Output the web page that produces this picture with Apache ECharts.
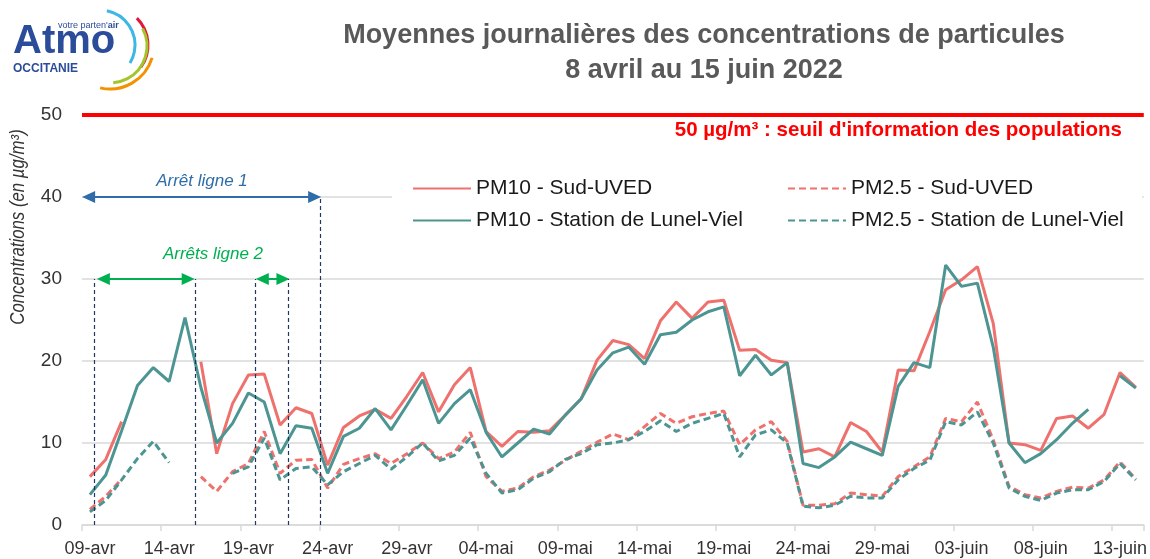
<!DOCTYPE html>
<html><head><meta charset="utf-8">
<script src="https://cdn.jsdelivr.net/npm/echarts@6/dist/echarts.min.js"></script>
<style>html,body{margin:0;padding:0;background:#fff}#c{width:1150px;height:559px}</style>
</head><body><div id="c"></div>
<script>
const categories = [
'09-avr','10-avr','11-avr','12-avr','13-avr','14-avr','15-avr','16-avr','17-avr','18-avr',
'19-avr','20-avr','21-avr','22-avr','23-avr','24-avr','25-avr','26-avr','27-avr','28-avr',
'29-avr','30-avr','01-mai','02-mai','03-mai','04-mai','05-mai','06-mai','07-mai','08-mai',
'09-mai','10-mai','11-mai','12-mai','13-mai','14-mai','15-mai','16-mai','17-mai','18-mai',
'19-mai','20-mai','21-mai','22-mai','23-mai','24-mai','25-mai','26-mai','27-mai','28-mai',
'29-mai','30-mai','31-mai','01-juin','02-juin','03-juin','04-juin','05-juin','06-juin','07-juin',
'08-juin','09-juin','10-juin','11-juin','12-juin','13-juin','14-juin'];

const pm10Sud = [5.9,8.0,12.6,null,null,null,null,19.9,8.7,14.8,
18.3,18.4,12.2,14.3,13.6,7.3,11.9,13.3,14.1,13.0,
15.7,18.6,13.8,17.1,19.2,11.4,9.6,11.4,11.3,11.5,
13.4,15.4,20.1,22.5,22.0,20.3,24.9,27.2,25.2,27.2,
27.4,21.3,21.4,20.1,19.8,8.9,9.3,8.3,12.5,11.4,
8.9,18.9,18.8,23.6,28.7,29.9,31.5,24.6,10.0,9.8,
9.1,13.0,13.3,11.8,13.5,18.6,16.8];

const pm10Lunel = [3.7,6.1,11.5,17.0,19.2,17.5,25.3,16.8,10.0,12.4,
16.1,15.0,8.7,12.1,11.8,6.3,10.8,11.8,14.2,11.6,
14.6,17.7,12.4,14.8,16.5,11.3,8.3,10.0,11.7,11.1,
13.4,15.4,18.9,21.0,21.7,19.6,23.2,23.5,25.0,26.0,
26.6,18.2,20.7,18.3,19.8,7.5,7.0,8.3,10.1,9.3,
8.5,16.9,19.8,19.2,31.7,29.1,29.5,21.7,10.0,7.6,
8.7,10.4,12.4,14.1,null,18.2,16.7];

const pm25Sud = [1.9,3.5,5.6,null,null,null,null,5.9,4.1,6.5,
7.5,11.4,6.3,7.9,8.0,4.5,7.4,8.1,8.7,7.5,
8.7,10.0,8.1,8.9,11.3,5.9,4.1,4.5,5.9,6.7,
7.9,9.0,10.1,11.1,10.4,12.0,13.6,12.4,13.2,13.6,
13.9,9.8,11.6,12.6,10.2,2.4,2.4,2.6,3.9,3.7,
3.5,5.9,7.1,8.3,13.0,12.6,15.0,10.4,4.7,3.7,
3.3,4.1,4.6,4.5,5.5,7.7,5.6];

const pm25Lunel = [1.6,3.0,5.5,8.1,10.2,7.6,null,null,null,6.3,
7.1,10.6,5.5,6.9,7.1,4.9,6.5,7.5,8.5,6.8,
8.3,10.0,7.8,8.5,10.6,6.3,3.9,4.3,5.7,6.5,
8.0,8.7,9.8,10.0,10.4,11.4,12.7,11.4,12.4,13.0,
13.6,8.3,11.0,11.6,10.0,2.3,2.1,2.4,3.5,3.3,
3.3,5.5,6.9,7.9,12.6,12.2,13.8,10.0,4.5,3.5,
3.0,3.9,4.3,4.3,5.3,7.5,5.5];

const seriesNames = ['PM10 - Sud-UVED','PM2.5 - Sud-UVED','PM10 - Station de Lunel-Viel','PM2.5 - Station de Lunel-Viel'];
const threshold = 50;
// annotation spans, in days counted from the left edge of 09-avr
const arret1 = [0, 15.1];
const arrets2 = [[0.93, 7.12], [10.96, 13.1]];
const stopLines = [[0.8, 30], [7.12, 30], [10.96, 30], [13.0, 30], [15.05, 40]];

const RED = '#EF716D', TEAL = '#4C9592';
const SANS = "'Liberation Sans',Arial,sans-serif";
const HEAD = 0.42; // half arrow-head length in days

function lineSeries(name, data, color, dashed, z) {
  return {
    name, type: 'line', data, symbol: 'none', z,
    lineStyle: {color, width: 3, type: dashed ? [7, 4] : 'solid'},
    itemStyle: {color}, connectNulls: false, silent: true
  };
}

const chart = echarts.init(document.getElementById('c'));
const legendPos = [[412, 178], [787, 178], [412, 210], [787, 210]];

chart.setOption({
  animation: false,
  backgroundColor: '#fff',
  grid: {left: 82, right: 4, top: 115, bottom: 34, containLabel: false},
  legend: seriesNames.map((n, i) => ({
    data: [n], left: legendPos[i][0], top: legendPos[i][1], padding: 0,
    itemWidth: 58, itemHeight: 14, itemGap: 0, selectedMode: false, z: 10,
    itemStyle: {opacity: 0},
    textStyle: {fontFamily: SANS, fontSize: 21, color: '#1a1a1a'}
  })),
  xAxis: [{
    type: 'category', data: categories, boundaryGap: true,
    axisLine: {lineStyle: {color: '#d9d9d9', width: 1.5}},
    axisTick: {show: true, interval: 4, length: 6, lineStyle: {color: '#d9d9d9', width: 1.5}},
    axisLabel: {interval: 4, margin: 15, fontFamily: SANS, fontSize: 18, color: '#333'},
    splitLine: {show: false}
  }, {
    type: 'value', min: 0, max: categories.length, show: false
  }],
  yAxis: {
    type: 'value', min: 0, max: 50, interval: 10,
    axisLine: {show: false}, axisTick: {show: false},
    axisLabel: {margin: 20, fontFamily: SANS, fontSize: 19, color: '#333'},
    splitLine: {lineStyle: {color: '#d9d9d9', width: 1.5}}
  },
  series: [
    Object.assign(lineSeries(seriesNames[0], pm10Sud, RED, false, 3), {
      markLine: {
        silent: true, symbol: 'none', label: {show: false},
        lineStyle: {color: '#ff0000', width: 4, type: 'solid'},
        data: [{yAxis: threshold}]
      }
    }),
    lineSeries(seriesNames[1], pm25Sud, RED, true, 3),
    lineSeries(seriesNames[2], pm10Lunel, TEAL, false, 4),
    lineSeries(seriesNames[3], pm25Lunel, TEAL, true, 4),
    {
      name: 'annot1', type: 'line', xAxisIndex: 1, yAxisIndex: 0, data: [], silent: true,
      markLine: {
        silent: true, label: {show: false}, symbol: ['triangle', 'triangle'], symbolSize: [12, 13],
        lineStyle: {color: '#2E6DA8', width: 2, type: 'solid'},
        data: [[{coord: [arret1[0] + HEAD, 40]}, {coord: [arret1[1] - HEAD, 40]}]]
      }
    },
    {
      name: 'annot2', type: 'line', xAxisIndex: 1, yAxisIndex: 0, data: [], silent: true,
      markLine: {
        silent: true, label: {show: false}, symbol: ['triangle', 'triangle'], symbolSize: [12, 13],
        lineStyle: {color: '#00B050', width: 2, type: 'solid'},
        data: arrets2.map(a => [{coord: [a[0] + HEAD, 30]}, {coord: [a[1] - HEAD, 30]}])
      }
    },
    {
      name: 'annot3', type: 'line', xAxisIndex: 1, yAxisIndex: 0, data: [], silent: true, z: 1,
      markLine: {
        silent: true, label: {show: false}, symbol: 'none',
        lineStyle: {color: '#1F3864', width: 1.2, type: [4, 3]},
        data: stopLines.map(s => [{coord: [s[0], 0]}, {coord: [s[0], s[1]]}])
      }
    }
  ],
  graphic: [
    {type: 'rect', z: 1, shape: {x: 392, y: 160, width: 750, height: 76}, style: {fill: '#fff'}},
    {type: 'text', x: 704, y: 36, style: {text: 'Moyennes journalières des concentrations de particules', font: 'bold 27px ' + SANS, fill: '#595959', align: 'center', verticalAlign: 'middle'}},
    {type: 'text', x: 704, y: 71, style: {text: '8 avril au 15 juin 2022', font: 'bold 27px ' + SANS, fill: '#595959', align: 'center', verticalAlign: 'middle'}},
    {type: 'text', x: 1122, y: 130, style: {text: '50 µg/m³ : seuil d\'information des populations', font: 'bold 20.5px ' + SANS, fill: '#ff0000', align: 'right', verticalAlign: 'middle'}},
    {type: 'text', x: 18, y: 227, rotation: Math.PI / 2, scaleX: 0.84, style: {text: 'Concentrations (en µg/m³)', font: 'italic 20px ' + SANS, fill: '#333', align: 'center', verticalAlign: 'middle'}},
    {type: 'text', x: 202, y: 181, style: {text: 'Arrêt ligne 1', font: 'italic 17px ' + SANS, fill: '#2E6DA8', align: 'center', verticalAlign: 'middle'}},
    {type: 'text', x: 213, y: 254, style: {text: 'Arrêts ligne 2', font: 'italic 17px ' + SANS, fill: '#00B050', align: 'center', verticalAlign: 'middle'}},
    // logo
    {type: 'text', x: 13, y: 42, style: {text: 'Atmo', font: 'bold 40px ' + SANS, fill: '#2B4C9B', align: 'left', verticalAlign: 'middle'}},
    {type: 'text', x: 58, y: 26, style: {rich: {a: {font: '9px ' + SANS, fill: '#2B4C9B'}, b: {font: 'bold 9px ' + SANS, fill: '#2B4C9B'}}, text: '{a|votre parten\'}{b|air}', align: 'left', verticalAlign: 'middle'}},
    {type: 'text', x: 13, y: 69, style: {text: 'OCCITANIE', font: 'bold 12px ' + SANS, fill: '#2B4C9B', align: 'left', verticalAlign: 'middle'}},
    {type: 'arc', shape: {cx: 100, cy: 45, r: 35, startAngle: -78.7 * Math.PI / 180, endAngle: 31 * Math.PI / 180}, style: {stroke: '#3DB7E4', lineWidth: 3, fill: null}},
    {type: 'arc', shape: {cx: 110, cy: 45, r: 38, startAngle: -45 * Math.PI / 180, endAngle: 36 * Math.PI / 180}, style: {stroke: '#E2173D', lineWidth: 3, fill: null}},
    {type: 'arc', shape: {cx: 110, cy: 46, r: 37, startAngle: -28 * Math.PI / 180, endAngle: 85 * Math.PI / 180}, style: {stroke: '#A4C52A', lineWidth: 3, fill: null}},
    {type: 'arc', shape: {cx: 110, cy: 45, r: 44, startAngle: 17 * Math.PI / 180, endAngle: 103 * Math.PI / 180}, style: {stroke: '#F39200', lineWidth: 3, fill: null}}
  ]
});
</script></body></html>
